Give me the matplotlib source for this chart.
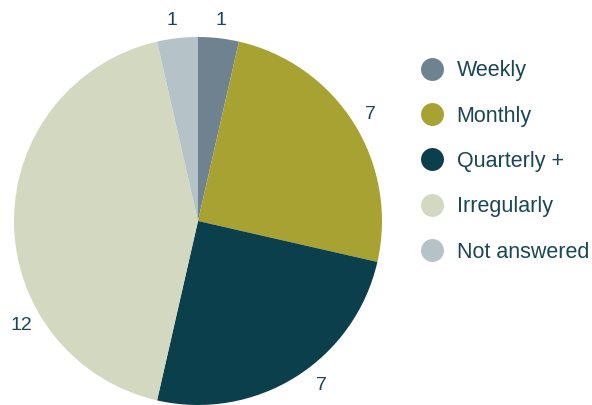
import numpy as np
import matplotlib.pyplot as plt
from matplotlib.lines import Line2D

plt.rcParams['font.family'] = ['Liberation Sans', 'DejaVu Sans']

# Survey answers: how often respondents do it
categories = ["Weekly", "Monthly", "Quarterly +", "Irregularly", "Not answered"]
counts = [1, 7, 7, 12, 1]
colors = ["#6e8290", "#a8a232", "#0b3f4c", "#d3d9c1", "#b5c2c7"]
# small nudges so the value labels sit clear of each other
label_shift = [0, 0, 5, 30, 1]

text_color = "#1a4756"

fig = plt.figure(figsize=(5.92, 4.05), dpi=100)
ax = fig.add_axes([0, 0, 1, 1])

wedges, _ = ax.pie(counts, colors=colors, startangle=90, counterclock=False,
                   radius=1.0, wedgeprops=dict(linewidth=0))

for w, n, shift in zip(wedges, counts, label_shift):
    mid = np.deg2rad((w.theta1 + w.theta2) / 2 + shift)
    r = 1.11
    ax.text(r * np.cos(mid), r * np.sin(mid), str(n), ha='center', va='center_baseline',
            fontsize=14, color=text_color)

handles = [Line2D([], [], marker='o', linestyle='none', markersize=16.5,
                  markerfacecolor=c, markeredgewidth=0) for c in colors]
leg = ax.legend(handles, categories, loc='upper left', bbox_to_anchor=(0.711, 0.851),
                frameon=False, fontsize=15.5, labelspacing=1.13, handlelength=1.0,
                handletextpad=0.66, borderaxespad=0, borderpad=0)
for t in leg.get_texts():
    t.set_color(text_color)

ax.set_xlim(-198 / 184, (592 - 198) / 184)
ax.set_ylim(-1.0, 221 / 184)
ax.set_aspect('equal')
ax.axis('off')

fig.savefig("out.png", dpi=100)
